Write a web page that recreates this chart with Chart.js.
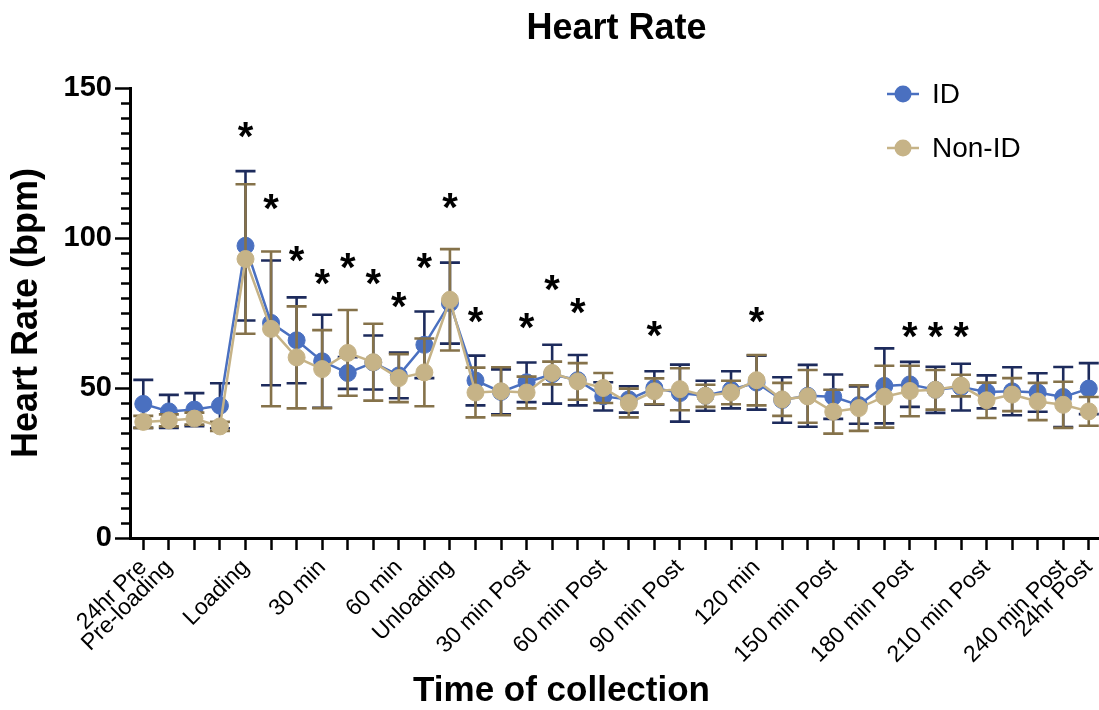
<!DOCTYPE html>
<html>
<head>
<meta charset="utf-8">
<title>Heart Rate</title>
<script src="https://cdn.jsdelivr.net/npm/chart.js@4.4.1/dist/chart.umd.min.js"></script>
<style>
  html, body { margin: 0; padding: 0; background: #fff; }
  #wrap { width: 1099px; height: 710px; }
</style>
</head>
<body>
<div id="wrap"><canvas id="hr" width="1099" height="710"></canvas></div>
<script>
// ---- data ----
const timeLabels = ['24hr Pre', 'Pre-loading', '', '', 'Loading', '', '', '30 min', '', '', '60 min', '', 'Unloading',
  '', '', '30 min Post', '', '', '60 min Post', '', '', '90 min Post', '', '', '120 min', '', '', '150 min Post',
  '', '', '180 min Post', '', '', '210 min Post', '', '', '240 min Post', '24hr Post'];

const idMean = [44.7, 42.2, 42.8, 44.1, 97.4, 71.7, 65.9, 58.9, 55.0, 58.5, 54.2, 64.4, 78.3, 52.5, 48.7, 51.9, 54.6, 52.6, 47.2,
  46.2, 50.0, 48.3, 47.4, 49.4, 51.8, 46.0, 47.4, 47.1, 44.3, 50.7, 51.2, 49.4, 50.3, 48.7, 48.9, 48.5, 47.0, 49.8];
const idSd = [8.0, 5.5, 5.5, 7.5, 24.9, 20.8, 14.3, 15.5, 5.3, 9.0, 7.6, 11.1, 13.5, 8.3, 7.5, 6.6, 9.8, 8.4, 4.7,
  4.4, 5.6, 9.5, 5.0, 6.2, 9.0, 7.6, 10.3, 7.4, 6.2, 12.5, 7.5, 7.7, 7.8, 5.5, 8.0, 6.4, 10.0, 8.5];

const nonIdMean = [38.7, 39.2, 39.8, 37.2, 93.0, 69.7, 60.2, 56.3, 61.7, 58.6, 53.3, 55.2, 79.4, 48.5, 48.9, 48.5, 55.0, 52.2, 50.0,
  45.0, 48.9, 49.6, 47.4, 48.5, 52.6, 46.2, 47.2, 42.1, 43.3, 47.1, 49.0, 49.4, 50.8, 45.9, 47.8, 45.5, 44.4, 42.2];
const nonIdSd = [2.0, 2.0, 2.0, 1.5, 24.9, 25.8, 17.0, 13.0, 14.3, 12.8, 8.0, 11.3, 16.9, 8.3, 8.0, 5.3, 3.8, 6.1, 5.0,
  4.8, 4.3, 7.0, 3.7, 3.9, 8.4, 5.5, 8.8, 7.3, 7.6, 10.3, 8.4, 6.6, 3.6, 5.9, 5.5, 6.2, 7.7, 4.8];

// significance markers (*): time-point index and height in bpm
const sigIndex = [4, 5, 6, 7, 8, 9, 10, 11, 12, 13, 15, 16, 17, 20, 24, 30, 31, 32];
const sigLevel = [136.7, 112.8, 95.5, 87.8, 93.0, 87.8, 80.0, 93.0, 113.0, 75.0, 73.0, 85.9, 78.1, 70.5, 75.0, 70.3, 70.3, 70.3];

// ---- styles ----
const FONT = 'Arial, "Liberation Sans", Helvetica, sans-serif';
const BLUE = '#4a70c0', NAVY = '#1d2b5c';
const TAN = '#c6b387', BROWN = '#85724a';
Chart.defaults.font.family = FONT;
Chart.defaults.color = '#000';

const errorBars = {
  id: 'errorBars',
  beforeDatasetDraw(chart, args) {
    const ds = chart.data.datasets[args.index];
    if (!ds.sd) return;
    const ctx = chart.ctx, ys = chart.scales.y;
    ctx.save();
    ctx.strokeStyle = ds.barColor;
    ctx.lineWidth = 2.6;
    args.meta.data.forEach((pt, i) => {
      const v = ds.data[i].y, s = ds.sd[i];
      const top = ys.getPixelForValue(v + s), bot = ys.getPixelForValue(v - s);
      ctx.beginPath();
      ctx.moveTo(pt.x, top); ctx.lineTo(pt.x, bot);
      ctx.moveTo(pt.x - 10, top); ctx.lineTo(pt.x + 10, top);
      ctx.moveTo(pt.x - 10, bot); ctx.lineTo(pt.x + 10, bot);
      ctx.stroke();
    });
    ctx.restore();
  }
};

const decorations = {
  id: 'decorations',
  afterDatasetsDraw(chart) {
    const ctx = chart.ctx, xs = chart.scales.x, ys = chart.scales.y;
    ctx.save();
    const size = 40;
    ctx.font = `bold ${size}px ${FONT}`;
    ctx.fillStyle = '#000';
    ctx.textAlign = 'center';
    ctx.textBaseline = 'alphabetic';
    sigIndex.forEach((idx, k) => {
      ctx.fillText('*', xs.getPixelForValue(idx), ys.getPixelForValue(sigLevel[k]) + 0.56 * size);
    });
    ctx.restore();
  },
  afterDraw(chart) {
    const ctx = chart.ctx, ca = chart.chartArea, ys = chart.scales.y;
    ctx.save();
    // minor y ticks every 5 bpm
    ctx.strokeStyle = '#000';
    ctx.lineWidth = 2.5;
    ctx.beginPath();
    for (let v = 5; v < 150; v += 5) {
      if (v % 50 === 0) continue;
      const y = Math.round(ys.getPixelForValue(v)) + 0.5;
      ctx.moveTo(ca.left - 9, y);
      ctx.lineTo(ca.left, y);
    }
    ctx.stroke();

    // titles
    ctx.fillStyle = '#000';
    ctx.textAlign = 'center';
    ctx.textBaseline = 'middle';
    const mid = (ca.left + ca.right) / 2;
    ctx.font = `bold 36px ${FONT}`;
    ctx.fillText('Heart Rate', mid + 2, 29);
    ctx.font = `bold 35px ${FONT}`;
    ctx.fillText('Time of collection', mid - 53, 691);

    // legend
    const items = [{ label: 'ID', color: BLUE }, { label: 'Non-ID', color: TAN }];
    ctx.font = `28px ${FONT}`;
    ctx.textAlign = 'left';
    items.forEach((it, k) => {
      const cx = ca.right - 196, cy = ca.top + 6 + k * 54;
      ctx.strokeStyle = it.color;
      ctx.fillStyle = it.color;
      ctx.lineWidth = 2.5;
      ctx.beginPath();
      ctx.moveTo(cx - 16, cy); ctx.lineTo(cx + 16, cy);
      ctx.stroke();
      ctx.beginPath();
      ctx.arc(cx, cy, 8.5, 0, Math.PI * 2);
      ctx.fill();
      ctx.fillStyle = '#000';
      ctx.fillText(it.label, cx + 29, cy + 1);
    });
    ctx.restore();
  }
};

new Chart(document.getElementById('hr').getContext('2d'), {
  type: 'line',
  data: {
    datasets: [
      { label: 'ID', data: idMean.map((v, i) => ({ x: i, y: v })), sd: idSd, barColor: NAVY,
        borderColor: BLUE, backgroundColor: BLUE, pointBackgroundColor: BLUE, pointBorderColor: BLUE,
        pointRadius: 8.5, pointBorderWidth: 1, borderWidth: 2.5, tension: 0, order: 2, clip: false },
      { label: 'Non-ID', data: nonIdMean.map((v, i) => ({ x: i, y: v })), sd: nonIdSd, barColor: BROWN,
        borderColor: TAN, backgroundColor: TAN, pointBackgroundColor: TAN, pointBorderColor: TAN,
        pointRadius: 8.5, pointBorderWidth: 1, borderWidth: 2.5, tension: 0, order: 1, clip: false }
    ]
  },
  options: {
    responsive: false,
    animation: false,
    layout: { autoPadding: false, padding: { top: 88, right: 0, bottom: 0, left: 0 } },
    plugins: { legend: { display: false }, tooltip: { enabled: false } },
    scales: {
      x: {
        type: 'linear', min: -0.52, max: 37.4,
        afterFit(scale) { scale.height = 172; scale.paddingRight = 0; },
        border: { color: '#000', width: 3 },
        grid: { drawOnChartArea: false, drawTicks: true, tickLength: 12, tickWidth: 2.5, tickColor: '#000' },
        ticks: {
          stepSize: 1, maxTicksLimit: 40, includeBounds: false, autoSkip: false,
          minRotation: 45, maxRotation: 45, padding: 4,
          font: { size: 23 }, color: '#000',
          callback: (v) => timeLabels[v] ?? ''
        }
      },
      y: {
        min: 0, max: 150,
        afterFit(scale) { scale.width = 130; },
        border: { color: '#000', width: 3 },
        grid: { drawOnChartArea: false, drawTicks: true, tickLength: 15, tickWidth: 2.5, tickColor: '#000' },
        ticks: { stepSize: 50, padding: 3, font: { size: 29, weight: 'bold' }, color: '#000' },
        title: { display: true, text: 'Heart Rate (bpm)', font: { size: 36, weight: 'bold' }, color: '#000',
          padding: { top: 5, bottom: 0 } }
      }
    }
  },
  plugins: [errorBars, decorations]
});
</script>
</body>
</html>
